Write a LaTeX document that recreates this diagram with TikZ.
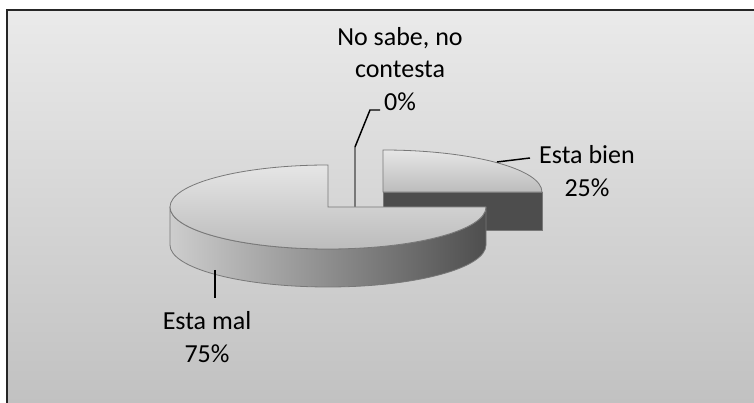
\documentclass[tikz,border=0pt]{standalone}
\usepackage{fontspec}
\setmainfont{Carlito}
\definecolor{panelTop}{RGB}{234,234,234}
\definecolor{panelBot}{RGB}{191,191,191}
\definecolor{faceTop}{RGB}{230,230,230}
\definecolor{faceBot}{RGB}{188,188,188}
\definecolor{sideL}{RGB}{205,205,205}
\definecolor{sideM}{RGB}{150,150,150}
\definecolor{sideR}{RGB}{78,78,78}
\definecolor{cutFace}{RGB}{77,77,77}
\definecolor{edgeGray}{RGB}{120,120,120}
\begin{document}
\begin{tikzpicture}[x=0.75pt,y=0.75pt,
panel/.style={%
draw=black!85,
line width=1.5pt,
top color=panelTop,
bottom color=panelBot
},
face/.style={%
draw=edgeGray,
line width=0.6pt,
top color=faceTop,
bottom color=faceBot
},
side/.style={%
draw=edgeGray,
line width=0.6pt,
left color=sideL,
middle color=sideM,
right color=sideR
},
cut/.style={%
draw=edgeGray,
line width=0.6pt,
fill=cutFace
},
lbl/.style={%
align=center,
inner sep=0pt,
font=\fontsize{19.5}{24.5}\selectfont
},
leader/.style={line width=1.1pt},
]
\useasboundingbox (0,0) rectangle (754,403);
%% Panel
\path[panel] (7,-20) rectangle (780,393);
%% Esta bien (25%)
\coordinate (cBien) at (383,211);
\path[cut] (cBien) rectangle (542,173);
\path[face] (cBien) -- (542,211) arc[start angle=0,end angle=90,x radius=159,y radius=42] -- cycle;
%% No sabe (0%)
\coordinate (cCero) at (355,196);
\coordinate (pCero) at (355,256);
\draw[edgeGray,line width=0.8pt] (cCero) -- (pCero);
%% Esta mal (75%)
\coordinate (cMal) at (328,196);
\path[side] (170,196) arc[start angle=180,end angle=360,x radius=158,y radius=42]
  -- ++(0,-38) arc[start angle=360,end angle=180,x radius=158,y radius=42] -- cycle;
\path[face] (cMal) -- (328,238) arc[start angle=90,end angle=360,x radius=158,y radius=42] -- cycle;
%% Labels
\node[lbl] (lCero) at (400,334) {No sabe, no\\contesta\\0\%};
\node[lbl] (lBien) at (587,232) {Esta bien\\25\%};
\node[lbl] (lMal) at (207,66) {Esta mal\\75\%};
%% Leaders
\coordinate (eCero) at (380,293);
\draw[leader] (pCero) -- (370,293) -- (eCero);
\coordinate (pBien) at (497,241);
\coordinate (eBien) at (530,245);
\draw[leader] (pBien) -- (eBien);
\coordinate (pMal) at (215,133);
\coordinate (eMal) at (215,105);
\draw[leader] (pMal) -- (eMal);
\end{tikzpicture}
\end{document}
